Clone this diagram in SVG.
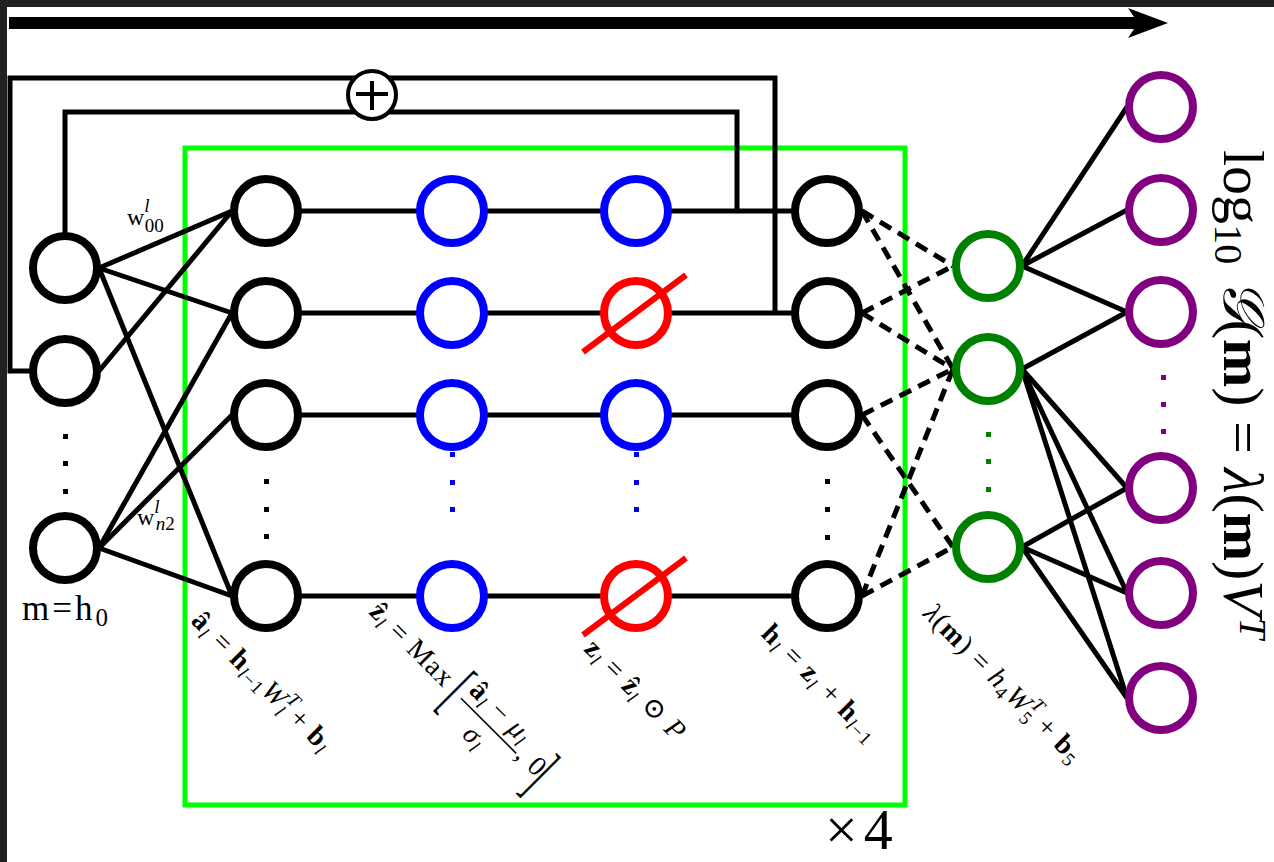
<svg xmlns="http://www.w3.org/2000/svg" width="1274" height="862" viewBox="0 0 1274 862">
  <style>
    text { font-family: "Liberation Serif", "DejaVu Serif", serif; fill: #000; }
    .b { font-weight: bold; }
    .i { font-style: italic; }
    .sub { font-size: 19px; }
    .lbl { font-size: 28px; letter-spacing: 1px; }
    .node { stroke-width: 8; fill: #fff; }
    .k { stroke: #000; }
    .bl { stroke: #0000ff; }
    .rd { stroke: #ff0000; }
    .gn { stroke: #008000; }
    .pu { stroke: #800080; }
    .edge { stroke: #000; stroke-width: 5; fill: none; }
    .dash { stroke: #000; stroke-width: 5; fill: none; stroke-dasharray: 13 8; }
    .slash { stroke: #ff0000; stroke-width: 6; }
  </style>

  <!-- canvas -->
  <rect x="0" y="0" width="1274" height="862" fill="#212121"/>
  <rect x="7" y="7" width="1267" height="855" fill="#fff"/>

  <!-- direction arrow -->
  <g id="flow-arrow">
    <line x1="9" y1="23" x2="1140" y2="23" stroke="#000" stroke-width="12"/>
    <polygon points="1168,23 1128,8 1138,23 1128,38" fill="#000"/>
  </g>

  <!-- repeated block frame -->
  <g id="block-frame">
    <rect x="185" y="148" width="720" height="657" fill="none" stroke="#00ff00" stroke-width="5"/>
    <text x="825" y="849" font-size="58">×<tspan dx="6">4</tspan></text>
  </g>

  <g id="connectors">
    <!-- skip connections -->
    <path class="edge" d="M 30 371 H 10 V 78 H 775 V 313"/>
    <path class="edge" d="M 65 234 V 112 H 737 V 211"/>
    <!-- input to first linear layer -->
    <line class="edge" x1="99" y1="268" x2="232" y2="211"/>
    <line class="edge" x1="99" y1="268" x2="232" y2="313"/>
    <line class="edge" x1="99" y1="268" x2="232" y2="596"/>
    <line class="edge" x1="99" y1="371" x2="232" y2="211"/>
    <line class="edge" x1="99" y1="548" x2="232" y2="313"/>
    <line class="edge" x1="99" y1="548" x2="232" y2="415"/>
    <line class="edge" x1="99" y1="548" x2="232" y2="596"/>
    <!-- rows through the block -->
    <line class="edge" x1="266" y1="211" x2="827" y2="211"/>
    <line class="edge" x1="266" y1="313" x2="827" y2="313"/>
    <line class="edge" x1="266" y1="415" x2="827" y2="415"/>
    <line class="edge" x1="266" y1="596" x2="827" y2="596"/>
    <!-- block output to lambda layer -->
    <line class="dash" x1="862" y1="211" x2="953" y2="266"/>
    <line class="dash" x1="862" y1="211" x2="953" y2="369"/>
    <line class="dash" x1="862" y1="313" x2="953" y2="266"/>
    <line class="dash" x1="862" y1="313" x2="953" y2="369"/>
    <line class="dash" x1="862" y1="415" x2="953" y2="369"/>
    <line class="dash" x1="862" y1="415" x2="953" y2="547"/>
    <line class="dash" x1="862" y1="596" x2="953" y2="369"/>
    <line class="dash" x1="862" y1="596" x2="953" y2="547"/>
    <!-- lambda layer to output -->
    <line class="edge" x1="1022" y1="266" x2="1127" y2="107"/>
    <line class="edge" x1="1022" y1="266" x2="1127" y2="210"/>
    <line class="edge" x1="1022" y1="266" x2="1127" y2="312"/>
    <line class="edge" x1="1022" y1="369" x2="1127" y2="312"/>
    <line class="edge" x1="1022" y1="369" x2="1127" y2="488"/>
    <line class="edge" x1="1022" y1="369" x2="1127" y2="593"/>
    <line class="edge" x1="1022" y1="369" x2="1127" y2="698"/>
    <line class="edge" x1="1022" y1="547" x2="1127" y2="488"/>
    <line class="edge" x1="1022" y1="547" x2="1127" y2="593"/>
    <line class="edge" x1="1022" y1="547" x2="1127" y2="698"/>
  </g>

  <!-- residual sum -->
  <g id="sum">
    <circle cx="372" cy="95" r="24" fill="#fff" stroke="#000" stroke-width="4"/>
    <line x1="356" y1="94" x2="388" y2="94" stroke="#000" stroke-width="4"/>
    <line x1="372" y1="81" x2="372" y2="110" stroke="#000" stroke-width="4"/>
  </g>

  <!-- input layer -->
  <g id="input">
    <circle class="node k" cx="65" cy="268" r="32"/>
    <circle class="node k" cx="65" cy="371" r="32"/>
    <circle class="node k" cx="65" cy="548" r="32"/>
    <rect x="63" y="434" width="5" height="5"/>
    <rect x="63" y="461" width="5" height="5"/>
    <rect x="63" y="489" width="5" height="5"/>
    <text x="22" y="620" font-size="35" letter-spacing="3">m=h<tspan dy="6" font-size="25" letter-spacing="0">0</tspan></text>
    <text x="127" y="225" font-size="24">w<tspan class="i sub" dy="-13">l</tspan><tspan class="sub" dx="-5" dy="20">00</tspan></text>
    <text x="137" y="525" font-size="24">w<tspan class="i sub" dy="-12">l</tspan><tspan class="i sub" dx="-4" dy="17">n</tspan><tspan class="sub">2</tspan></text>
  </g>

  <!-- linear layer a -->
  <g id="layer-a">
    <circle class="node k" cx="266" cy="211" r="32"/>
    <circle class="node k" cx="266" cy="313" r="32"/>
    <circle class="node k" cx="266" cy="415" r="32"/>
    <circle class="node k" cx="266" cy="596" r="32"/>
    <rect x="264" y="479" width="5" height="5"/>
    <rect x="264" y="507" width="5" height="5"/>
    <rect x="264" y="534" width="5" height="5"/>
    <g transform="translate(190,622) rotate(45)">
      <text class="lbl"><tspan class="b">â</tspan><tspan class="sub i" dy="5">l</tspan><tspan dy="-5"> = </tspan><tspan class="b">h</tspan><tspan class="sub i" dy="5">l</tspan><tspan class="sub">−1</tspan><tspan class="i" dy="-5">W</tspan><tspan class="sub i" dy="-12">T</tspan><tspan class="sub i" dx="-11" dy="18">l</tspan><tspan dy="-6"> + </tspan><tspan class="b">b</tspan><tspan class="sub i" dy="5">l</tspan></text>
    </g>
  </g>

  <!-- normalised activation z-hat -->
  <g id="layer-zhat">
    <circle class="node bl" cx="452" cy="211" r="32"/>
    <circle class="node bl" cx="452" cy="313" r="32"/>
    <circle class="node bl" cx="452" cy="415" r="32"/>
    <circle class="node bl" cx="452" cy="596" r="32"/>
    <rect x="450" y="452" width="5" height="5" fill="#0000ff"/>
    <rect x="450" y="480" width="5" height="5" fill="#0000ff"/>
    <rect x="450" y="507" width="5" height="5" fill="#0000ff"/>
    <g transform="translate(368,613) rotate(45)">
      <text class="lbl"><tspan class="b">ẑ</tspan><tspan class="sub i" dy="5">l</tspan><tspan dy="-5"> = Max</tspan></text>
      <text transform="translate(113,14) scale(1,2.32)" font-size="30">[</text>
      <text class="lbl" x="164" y="-15" text-anchor="middle"><tspan class="b">â</tspan><tspan class="sub i" dy="5">l</tspan><tspan dy="-5"> − </tspan><tspan class="i">μ</tspan><tspan class="sub i" dy="5">l</tspan></text>
      <line x1="126" y1="-5.5" x2="204" y2="-5.5" stroke="#000" stroke-width="1.6"/>
      <text class="lbl" x="163" y="21" text-anchor="middle"><tspan class="i">σ</tspan><tspan class="sub i" dy="5">l</tspan></text>
      <text class="lbl" x="205" y="-2">, 0</text>
      <text transform="translate(231,14) scale(1,2.32)" font-size="30">]</text>
    </g>
  </g>

  <!-- dropout layer z -->
  <g id="layer-z">
    <circle class="node bl" cx="636" cy="211" r="32"/>
    <circle class="node rd" cx="636" cy="313" r="32"/>
    <line class="slash" x1="583" y1="352" x2="686" y2="275"/>
    <circle class="node bl" cx="636" cy="415" r="32"/>
    <circle class="node rd" cx="636" cy="596" r="32"/>
    <line class="slash" x1="583" y1="635" x2="686" y2="558"/>
    <rect x="634" y="452" width="5" height="5" fill="#0000ff"/>
    <rect x="634" y="480" width="5" height="5" fill="#0000ff"/>
    <rect x="634" y="507" width="5" height="5" fill="#0000ff"/>
    <g transform="translate(583,650) rotate(45)">
      <text class="lbl"><tspan class="b">z</tspan><tspan class="sub i" dy="5">l</tspan><tspan dy="-5"> = </tspan><tspan class="b">ẑ</tspan><tspan class="sub i" dy="5">l</tspan><tspan dy="-5"> ⊙ </tspan><tspan class="i">P</tspan></text>
    </g>
  </g>

  <!-- block output h -->
  <g id="layer-h">
    <circle class="node k" cx="827" cy="211" r="32"/>
    <circle class="node k" cx="827" cy="313" r="32"/>
    <circle class="node k" cx="827" cy="415" r="32"/>
    <circle class="node k" cx="827" cy="596" r="32"/>
    <rect x="825" y="479" width="5" height="5"/>
    <rect x="825" y="507" width="5" height="5"/>
    <rect x="825" y="535" width="5" height="5"/>
    <g transform="translate(760,635) rotate(45)">
      <text class="lbl"><tspan class="b">h</tspan><tspan class="sub i" dy="5">l</tspan><tspan dy="-5"> = </tspan><tspan class="b">z</tspan><tspan class="sub i" dy="5">l</tspan><tspan dy="-5"> + </tspan><tspan class="b">h</tspan><tspan class="sub i" dy="5">l</tspan><tspan class="sub">−1</tspan></text>
    </g>
  </g>

  <!-- lambda layer -->
  <g id="layer-lambda">
    <circle class="node gn" cx="988" cy="266" r="32"/>
    <circle class="node gn" cx="988" cy="369" r="32"/>
    <circle class="node gn" cx="988" cy="547" r="32"/>
    <rect x="986" y="432" width="5" height="5" fill="#008000"/>
    <rect x="986" y="459" width="5" height="5" fill="#008000"/>
    <rect x="986" y="487" width="5" height="5" fill="#008000"/>
    <g transform="translate(922,615) rotate(45)">
      <text class="lbl"><tspan class="i">λ</tspan>(<tspan class="b">m</tspan>)<tspan> = </tspan><tspan class="i">h</tspan><tspan class="sub" dy="5">4</tspan><tspan class="i" dy="-5">W</tspan><tspan class="sub i" dy="-12">T</tspan><tspan class="sub" dx="-11" dy="18">5</tspan><tspan dy="-6"> + </tspan><tspan class="b">b</tspan><tspan class="sub" dy="5">5</tspan></text>
    </g>
  </g>

  <!-- output layer -->
  <g id="output">
    <circle class="node pu" cx="1161" cy="107" r="32"/>
    <circle class="node pu" cx="1161" cy="210" r="32"/>
    <circle class="node pu" cx="1161" cy="312" r="32"/>
    <circle class="node pu" cx="1161" cy="488" r="32"/>
    <circle class="node pu" cx="1161" cy="593" r="32"/>
    <circle class="node pu" cx="1161" cy="698" r="32"/>
    <rect x="1161" y="375" width="5" height="5" fill="#800080"/>
    <rect x="1161" y="402" width="5" height="5" fill="#800080"/>
    <rect x="1161" y="429" width="5" height="5" fill="#800080"/>
    <g transform="translate(1224,150) rotate(90)">
      <text font-size="58">log<tspan dy="9" font-size="40">10</tspan><tspan dy="-9"> </tspan><tspan class="i">𝒢</tspan>(<tspan class="b">m</tspan>) = <tspan class="i">λ</tspan>(<tspan class="b">m</tspan>)<tspan class="i">V</tspan><tspan class="i" dx="2" dy="-16" font-size="38">T</tspan></text>
    </g>
  </g>
</svg>
